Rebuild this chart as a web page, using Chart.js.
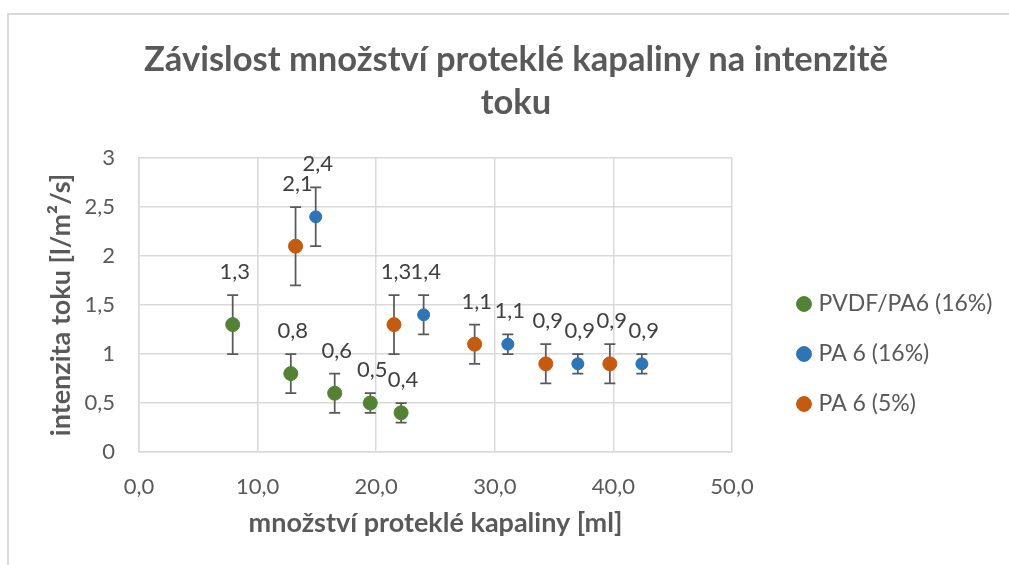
<!DOCTYPE html>
<html>
<head>
<meta charset="utf-8">
<script src="https://cdn.jsdelivr.net/npm/chart.js@4.4.1/dist/chart.umd.min.js"></script>
<style>
  html, body { margin: 0; padding: 0; background: #ffffff; }
  #wrap { width: 1009px; height: 565px; position: relative; }
</style>
</head>
<body>
<div id="wrap"><canvas id="c" width="1009" height="565"></canvas></div>
<script>
// ---- data ----
const seriesNames = ['PVDF/PA6 (16%)', 'PA 6 (16%)', 'PA 6 (5%)'];

const pvdfX   = [7.9, 12.8, 16.5, 19.5, 22.1];
const pvdfY   = [1.3, 0.8, 0.6, 0.5, 0.4];
const pvdfErr = [0.3, 0.2, 0.2, 0.1, 0.1];

const pa16X   = [14.9, 24.0, 31.1, 37.0, 42.4];
const pa16Y   = [2.4, 1.4, 1.1, 0.9, 0.9];
const pa16Err = [0.3, 0.2, 0.1, 0.1, 0.1];

const pa5X    = [13.2, 21.5, 28.3, 34.3, 39.7];
const pa5Y    = [2.1, 1.3, 1.1, 0.9, 0.9];
const pa5Err  = [0.4, 0.3, 0.2, 0.2, 0.2];

const xTickValues = [0, 10, 20, 30, 40, 50];
const yTickValues = [0, 0.5, 1, 1.5, 2, 2.5, 3];

const titleLines = ['Závislost množství proteklé kapaliny na intenzitě', 'toku'];
const xTitle = 'množství proteklé kapaliny [ml]';
const yTitle = 'intenzita toku [l/m²/s]';

// ---- styling ----
const FONT = 'Lato, "Open Sans", sans-serif';
const TXT = '#595959';
const GRID = '#d9d9d9';
const colors = ['#548235', '#2E75B6', '#C55A11'];

function toPoints(xs, ys, errs) {
  return xs.map((x, i) => ({ x: x, y: ys[i], err: errs[i] }));
}
const fmt = v => String(v).replace('.', ',');

// ---- layout helpers ----
const W = 1009;
const plotLeft = 139, plotRight = 732;
const legendFontSize = 23;
const legendPad = 27;
const legendBoxW = 6;
const legendLeft = 774;
const mctx = document.createElement('canvas').getContext('2d');
mctx.font = legendFontSize + 'px ' + FONT;
const maxTextW = Math.max(...seriesNames.map(s => mctx.measureText(s).width));
const legendW = legendPad + legendBoxW + legendFontSize / 2 + maxTextW + 10;
const padRight = Math.max(0, W - legendLeft - legendW);
const titleCenter = 516;
const padLeft = Math.max(0, padRight + 2 * (titleCenter - W / 2));
const yTitleFont = 27;
const yTitleCenter = 61;

const errorBarPlugin = {
  id: 'errorBars',
  beforeDatasetsDraw(chart) {
    const ctx = chart.ctx;
    const yS = chart.scales.y;
    ctx.save();
    ctx.strokeStyle = '#595959';
    ctx.lineWidth = 1.75;
    chart.data.datasets.forEach((ds, di) => {
      const meta = chart.getDatasetMeta(di);
      meta.data.forEach((pt, i) => {
        const d = ds.data[i];
        const px = pt.x;
        const top = yS.getPixelForValue(d.y + d.err);
        const bot = yS.getPixelForValue(d.y - d.err);
        const cap = 5.5;
        ctx.beginPath();
        ctx.moveTo(px, top); ctx.lineTo(px, bot);
        ctx.moveTo(px - cap, top); ctx.lineTo(px + cap, top);
        ctx.moveTo(px - cap, bot); ctx.lineTo(px + cap, bot);
        ctx.stroke();
      });
    });
    ctx.restore();
  },
  afterDatasetsDraw(chart) {
    const ctx = chart.ctx;
    const yS = chart.scales.y;
    ctx.save();
    ctx.fillStyle = '#404040';
    ctx.font = '22px ' + FONT;
    ctx.textAlign = 'center';
    ctx.textBaseline = 'middle';
    chart.data.datasets.forEach((ds, di) => {
      const meta = chart.getDatasetMeta(di);
      meta.data.forEach((pt, i) => {
        const d = ds.data[i];
        const top = yS.getPixelForValue(d.y + d.err);
        ctx.fillText(fmt(d.y), pt.x + 2, top - 23);
      });
    });
    ctx.restore();
  }
};

const framePlugin = {
  id: 'frame',
  beforeDraw(chart) {
    const ctx = chart.ctx;
    ctx.save();
    ctx.fillStyle = '#ffffff';
    ctx.fillRect(0, 0, chart.width, chart.height);
    ctx.strokeStyle = '#d9d9d9';
    ctx.lineWidth = 2;
    ctx.strokeRect(8, 14, chart.width + 20, chart.height + 20);
    ctx.restore();
  }
};

new Chart(document.getElementById('c'), {
  type: 'scatter',
  data: {
    datasets: [
      { label: seriesNames[0], data: toPoints(pvdfX, pvdfY, pvdfErr),
        backgroundColor: colors[0], borderColor: colors[0], pointRadius: 7, borderWidth: 1 },
      { label: seriesNames[1], data: toPoints(pa16X, pa16Y, pa16Err),
        backgroundColor: colors[1], borderColor: colors[1], pointRadius: 6, borderWidth: 1 },
      { label: seriesNames[2], data: toPoints(pa5X, pa5Y, pa5Err),
        backgroundColor: colors[2], borderColor: colors[2], pointRadius: 7, borderWidth: 1 }
    ]
  },
  options: {
    responsive: false,
    animation: false,
    devicePixelRatio: 1,
    layout: { padding: { left: padLeft, right: padRight, top: 0, bottom: 0 } },
    plugins: {
      tooltip: { enabled: false },
      title: {
        display: true,
        text: titleLines,
        color: TXT,
        font: { family: FONT, size: 34.5, weight: 'bold', lineHeight: 43 / 34.5 },
        padding: { top: 38, bottom: 34 }
      },
      legend: {
        display: true,
        position: 'right',
        align: 'center',
        fullSize: false,
        maxWidth: 400,
        title: { display: true, text: ' ', padding: { top: 83.6, bottom: 0 }, font: { size: 12 } },
        labels: {
          usePointStyle: true,
          pointStyle: 'circle',
          boxWidth: legendBoxW,
          boxHeight: 10.5,
          padding: legendPad,
          color: TXT,
          font: { family: FONT, size: legendFontSize }
        }
      }
    },
    scales: {
      x: {
        type: 'linear',
        min: 0, max: 50,
        afterBuildTicks: s => { s.ticks = xTickValues.map(v => ({ value: v })); },
        afterFit: s => { s.height = 113; },
        grid: { color: GRID, lineWidth: 1.5, drawTicks: false },
        border: { color: GRID, width: 1.5 },
        ticks: { color: TXT, font: { family: FONT, size: 22 }, padding: 22,
                 callback: v => v.toFixed(1).replace('.', ',') },
        title: { display: true, text: xTitle, color: TXT,
                 font: { family: FONT, size: 27, weight: 'bold' }, padding: { top: 0, bottom: 26 } }
      },
      y: {
        type: 'linear',
        min: 0, max: 3,
        afterBuildTicks: s => { s.ticks = yTickValues.map(v => ({ value: v })); },
        afterFit: s => { s.width = plotLeft - padLeft; },
        grid: { color: GRID, lineWidth: 1.5, drawTicks: false },
        border: { color: GRID, width: 1.5 },
        ticks: { color: TXT, font: { family: FONT, size: 22 }, padding: 24,
                 callback: v => fmt(v) },
        title: { display: true, text: yTitle, color: TXT,
                 font: { family: FONT, size: yTitleFont, weight: 'bold' },
                 padding: { top: Math.max(0, yTitleCenter - padLeft - yTitleFont * 0.6), bottom: 0 } }
      },
      spacer: {
        type: 'linear',
        position: 'right',
        display: true,
        afterFit: s => { s.width = legendLeft - plotRight; },
        grid: { display: false, drawTicks: false },
        border: { display: false },
        ticks: { display: false },
        title: { display: false }
      }
    }
  },
  plugins: [framePlugin, errorBarPlugin]
});
</script>
</body>
</html>
